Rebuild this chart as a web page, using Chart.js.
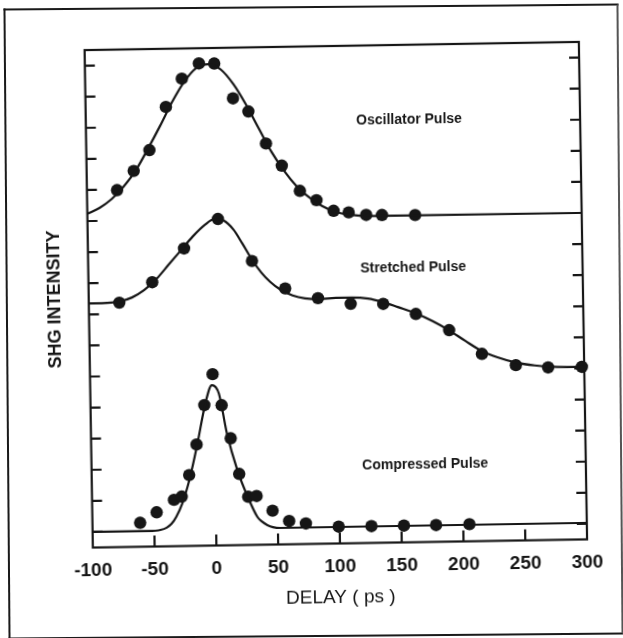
<!DOCTYPE html>
<html>
<head>
<meta charset="utf-8">
<script src="https://cdn.jsdelivr.net/npm/chart.js@4.4.0/dist/chart.umd.min.js"></script>
<style>
  html, body { margin: 0; padding: 0; background: #fff; }
  #wrap { position: relative; width: 623px; height: 638px; overflow: hidden; }
  #frame {
    position: absolute; left: 6px; top: 6px; width: 611px; height: 627px;
    border: 2px solid #1a1a1a; border-right-color: #555;
    transform: rotate(-0.46deg);
  }
  #chart {
    position: absolute; left: 0; top: 0;
    transform: rotate(-0.95deg); transform-origin: 335px 295px;
  }
</style>
</head>
<body>
<div id="wrap">
  <div id="frame"></div>
  <canvas id="chart" width="623" height="638"></canvas>
</div>
<script>
const ink = '#161616';

// measured points (delay in ps, intensity in tick units)
const oscX = [-75.6, -61.9, -48.9, -35.0, -21.7, -7.7, 4.7, 19.4, 31.7, 45.5, 58, 72.3, 85.6, 99.3, 111.5, 125.6, 138.4, 165.2];
const oscY = [10.98, 11.59, 12.25, 13.63, 14.53, 15.01, 15.0, 13.87, 13.44, 12.4, 11.68, 10.86, 10.55, 10.2, 10.14, 10.05, 10.04, 10.02];

const strX = [-75.3, -48.4, -22.2, 5.6, 32.6, 59.1, 85.5, 111.9, 138.2, 164.5, 191.2, 217.4, 244.7, 270.8, 298.1];
const strY = [7.36, 8.0, 9.07, 10.0, 8.63, 7.73, 7.4, 7.2, 7.18, 6.84, 6.3, 5.52, 5.14, 5.05, 5.05];

const cmpX = [-61.4, -47.9, -33.7, -27.4, -21.1, -14.7, -7.9, -0.8, 6.1, 13.0, 19.4, 26.4, 33.2, 45.9, 59.2, 72.7, 99.2, 125.7, 152.0, 178.0, 205.0];
const cmpY = [0.27, 0.6, 0.99, 1.09, 1.78, 2.76, 4.02, 5.01, 4.01, 2.94, 1.79, 1.05, 1.07, 0.59, 0.25, 0.16, 0.04, 0.04, 0.04, 0.04, 0.05];

// fitted curves
const oscFitX = [-100, -90, -80, -70, -60, -50, -40, -30, -20, -10, 0, 10, 20, 30, 40, 50, 60, 70, 80, 90, 100, 115, 130, 300];
const oscFitY = [10.23, 10.42, 10.7, 11.1, 11.62, 12.3, 13.02, 13.78, 14.42, 14.86, 14.98, 14.8, 14.32, 13.65, 12.88, 12.12, 11.5, 11.0, 10.64, 10.36, 10.18, 10.05, 10.01, 10.0];

const strFitX = [-100, -85, -75, -65, -55, -45, -35, -25, -15, -5, 3, 10, 18, 25, 33, 40, 47, 55, 65, 75, 87, 100, 113, 126, 138, 150, 165, 178, 191, 204, 217, 230, 245, 260, 275, 300];
const strFitY = [7.35, 7.36, 7.4, 7.52, 7.75, 8.1, 8.55, 9.0, 9.45, 9.82, 10.0, 9.95, 9.65, 9.2, 8.65, 8.25, 7.95, 7.7, 7.5, 7.4, 7.37, 7.4, 7.4, 7.36, 7.24, 7.07, 6.85, 6.6, 6.3, 5.95, 5.62, 5.4, 5.22, 5.12, 5.07, 5.05];

const cmpFitX = [-100, -55, -45, -40, -36, -32, -27, -21, -14.5, -7, -1.5, 4, 10, 18, 26, 33.5, 37, 41.5, 46, 52, 300];
const cmpFitY = [0.0, 0.0, 0.03, 0.1, 0.22, 0.45, 0.87, 1.62, 2.69, 4.08, 4.66, 4.39, 3.1, 1.91, 1.05, 0.4, 0.25, 0.13, 0.06, 0.03, 0.03];

const xTickMarks = [-50, 0, 50, 100, 150, 200, 250];
const yTickMarks = [0, 1, 2, 3, 4, 5, 6, 7, 8, 9, 10, 11, 12, 13, 14, 15];
const curveNames = ['Oscillator Pulse', 'Stretched Pulse', 'Compressed Pulse'];

function pts(xs, ys) {
  return xs.map((x, i) => ({ x: x, y: ys[i] }));
}

function curve(xs, ys) {
  return {
    data: pts(xs, ys),
    showLine: true,
    borderColor: ink,
    borderWidth: 2.2,
    pointRadius: 0,
    cubicInterpolationMode: 'monotone',
    fill: false
  };
}

function dots(xs, ys) {
  return {
    data: pts(xs, ys),
    showLine: false,
    pointRadius: 6.2,
    pointBackgroundColor: ink,
    pointBorderWidth: 0,
    clip: false
  };
}

// box and inward ticks like the original plot
const frameTicks = {
  id: 'frameTicks',
  beforeDatasetsDraw(chart) {
    const { ctx, chartArea: a, scales: { x, y } } = chart;
    ctx.save();
    ctx.strokeStyle = ink;
    ctx.lineWidth = 2.2;
    ctx.strokeRect(a.left, a.top, a.right - a.left, a.bottom - a.top);
    ctx.beginPath();
    yTickMarks.forEach(v => {
      const py = y.getPixelForValue(v);
      ctx.moveTo(a.left, py); ctx.lineTo(a.left + 10, py);
      ctx.moveTo(a.right, py); ctx.lineTo(a.right - 10, py);
    });
    xTickMarks.forEach(v => {
      const px = x.getPixelForValue(v);
      ctx.moveTo(px, a.bottom); ctx.lineTo(px, a.bottom - 11);
    });
    ctx.stroke();
    ctx.restore();
  }
};

const curveLabels = {
  id: 'curveLabels',
  afterDatasetsDraw(chart) {
    const { ctx, scales: { x, y } } = chart;
    const at = [[161.6, 13.08], [162.9, 8.32], [170, 1.98]];
    ctx.save();
    ctx.fillStyle = ink;
    ctx.font = 'bold 14px "Liberation Sans", Arial, sans-serif';
    ctx.textAlign = 'center';
    ctx.textBaseline = 'middle';
    curveNames.forEach((t, i) => {
      ctx.fillText(t, x.getPixelForValue(at[i][0]), y.getPixelForValue(at[i][1]));
    });
    ctx.restore();
  }
};

new Chart(document.getElementById('chart'), {
  type: 'scatter',
  data: {
    datasets: [
      curve(oscFitX, oscFitY),
      curve(strFitX, strFitY),
      curve(cmpFitX, cmpFitY),
      dots(oscX, oscY),
      dots(strX, strY),
      dots(cmpX, cmpY)
    ]
  },
  options: {
    responsive: false,
    animation: false,
    events: [],
    layout: { padding: { left: 0, right: 40, top: 46, bottom: 0 } },
    plugins: { legend: { display: false }, tooltip: { enabled: false } },
    scales: {
      x: {
        type: 'linear',
        min: -100,
        max: 300,
        afterFit: s => { s.height = 94.5; },
        grid: { display: false, drawTicks: false },
        border: { display: false },
        ticks: {
          stepSize: 50,
          padding: 12,
          color: ink,
          font: { family: '"Liberation Sans", Arial, sans-serif', size: 19, weight: 'bold' }
        },
        title: {
          display: true,
          text: 'DELAY ( ps )',
          color: ink,
          font: { family: '"Liberation Sans", Arial, sans-serif', size: 19 },
          padding: { top: 0, bottom: 29 }
        }
      },
      y: {
        type: 'linear',
        min: -0.5,
        max: 15.5,
        afterFit: s => { s.width = 88.7; },
        grid: { display: false, drawTicks: false },
        border: { display: false },
        ticks: { display: false },
        title: {
          display: true,
          text: 'SHG INTENSITY',
          color: ink,
          font: { family: '"Liberation Sans", Arial, sans-serif', size: 18, weight: 'bold' },
          padding: { top: 44, bottom: 0 }
        }
      }
    }
  },
  plugins: [frameTicks, curveLabels]
});
</script>
</body>
</html>
